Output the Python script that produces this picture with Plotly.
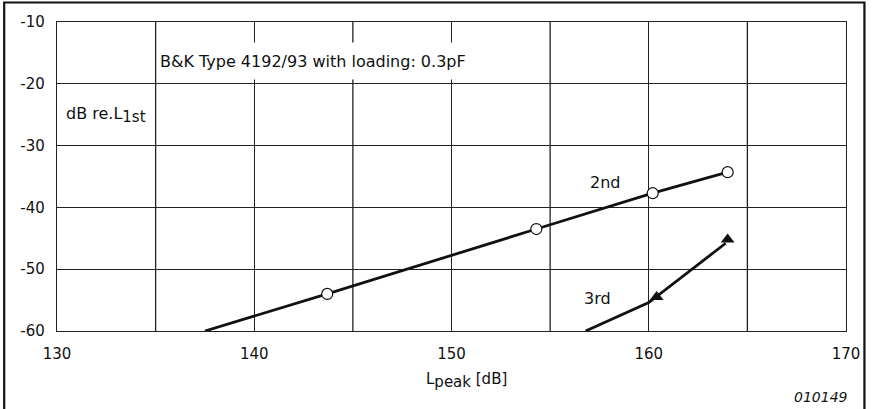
import plotly.graph_objects as go

# Axis ranges and ticks
x_range = [130, 170]
y_range = [-60, -10]
x_ticks = [130, 140, 150, 160, 170]
y_ticks = [-60, -50, -40, -30, -20, -10]
y_tick_text = ["-60", "-50", "-40", "-30", "-20", "-10"]
x_grid = [135, 145, 155, 165]

# 2nd harmonic distortion (fitted line and measured points)
second_line_x = [137.5, 143.7, 154.3, 160.2, 164.0]
second_line_y = [-60.0, -54.0, -43.5, -37.7, -34.3]
second_pts_x = [143.7, 154.3, 160.2, 164.0]
second_pts_y = [-54.0, -43.5, -37.7, -34.3]

# 3rd harmonic distortion
third_line_x = [156.8, 160.0, 163.9]
third_line_y = [-60.0, -55.4, -45.8]
third_pts_x = [160.4, 164.0]
third_pts_y = [-54.5, -45.2]

FONT = "DejaVu Sans"
INK = "#111111"
GRID = "#222222"

fig = go.Figure()

fig.add_trace(go.Scatter(x=second_line_x, y=second_line_y, mode="lines",
                         line=dict(color=INK, width=2.8), hoverinfo="skip"))
fig.add_trace(go.Scatter(x=second_pts_x, y=second_pts_y, mode="markers",
                         marker=dict(symbol="circle", size=11, color="white",
                                     line=dict(color=INK, width=1.2)),
                         cliponaxis=False))
fig.add_trace(go.Scatter(x=third_line_x, y=third_line_y, mode="lines",
                         line=dict(color=INK, width=2.8), hoverinfo="skip"))
fig.add_trace(go.Scatter(x=third_pts_x, y=third_pts_y, mode="markers",
                         marker=dict(symbol="triangle-up", size=12, color=INK,
                                     line=dict(width=0)),
                         cliponaxis=False))

# vertical grid lines at the 5 dB steps
for gx in x_grid:
    fig.add_shape(type="line", xref="x", yref="y", x0=gx, x1=gx,
                  y0=y_range[0], y1=y_range[1],
                  line=dict(color=GRID, width=1.3), layer="below")

W, H = 872, 409
ML, MR, MT, MB = 57, 23, 22, 78
pw, ph = W - ML - MR, H - MT - MB


def px(xp):
    return (xp - ML) / pw


def py(yp):
    return 1 - (yp - MT) / ph


# outer frame (open at the bottom edge)
fig.add_shape(type="rect", xref="paper", yref="paper",
              x0=px(4), x1=px(867.5), y0=py(420), y1=py(2.5),
              line=dict(color=INK, width=2.2), fillcolor="rgba(0,0,0,0)")

fig.add_annotation(xref="paper", yref="paper", x=px(159), y=py(42),
                   xanchor="left", yanchor="top", width=316, height=36,
                   align="left", valign="middle", showarrow=False,
                   bgcolor="white", borderpad=0,
                   text="B&K Type 4192/93 with loading: 0.3pF",
                   font=dict(family=FONT, size=16, color=INK))
fig.add_annotation(xref="paper", yref="paper", x=px(64), y=py(115),
                   xanchor="left", yanchor="middle", showarrow=False,
                   text="dB re.L<sub><span style='font-size:15px'>1st</span></sub>",
                   font=dict(family=FONT, size=16, color=INK))
fig.add_annotation(xref="x", yref="y", x=157.8, y=-36.0, showarrow=False,
                   text="2nd", font=dict(family=FONT, size=16, color=INK))
fig.add_annotation(xref="x", yref="y", x=157.4, y=-54.8, showarrow=False,
                   text="3rd", font=dict(family=FONT, size=16, color=INK))
fig.add_annotation(xref="paper", yref="paper", x=px(468), y=py(380),
                   xanchor="center", yanchor="middle", showarrow=False,
                   text="L<sub><span style='font-size:15px'>peak</span></sub> [dB]",
                   font=dict(family=FONT, size=15, color=INK))
fig.add_annotation(xref="paper", yref="paper", x=px(853), y=py(397),
                   xanchor="right", yanchor="middle", showarrow=False,
                   text="<i>010149</i>",
                   font=dict(family=FONT, size=14, color=INK))

fig.update_xaxes(range=x_range, tickvals=x_ticks, ticks="", showgrid=True,
                 gridcolor=GRID, gridwidth=1.3, showline=True, linecolor=GRID,
                 linewidth=1.3, mirror=True, zeroline=False,
                 ticklabelstandoff=9,
                 tickfont=dict(family=FONT, size=15, color=INK))
fig.update_yaxes(range=y_range, tickvals=y_ticks, ticktext=y_tick_text,
                 ticks="", showgrid=True,
                 gridcolor=GRID, gridwidth=1.3, showline=True, linecolor=GRID,
                 linewidth=1.3, mirror=True, zeroline=False,
                 ticklabelstandoff=8,
                 tickfont=dict(family=FONT, size=15, color=INK))

fig.update_layout(width=W, height=H, margin=dict(l=ML, r=MR, t=MT, b=MB),
                  paper_bgcolor="white", plot_bgcolor="white",
                  showlegend=False)

fig.write_html("out.html")
